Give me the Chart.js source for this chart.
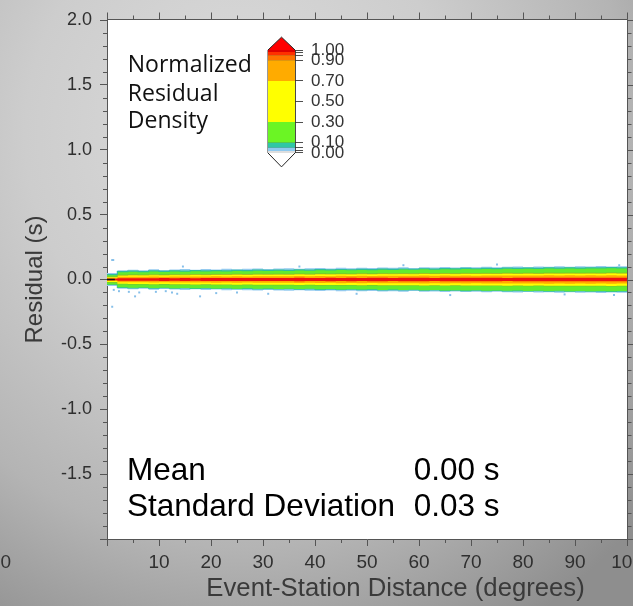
<!DOCTYPE html>
<html>
<head>
<meta charset="utf-8">
<title>Residual density</title>
<script src="https://cdn.jsdelivr.net/npm/chart.js@4.4.1/dist/chart.umd.min.js"></script>
<style>
  html, body { margin: 0; padding: 0; }
  body {
    width: 633px; height: 606px; overflow: hidden; position: relative;
    background: radial-gradient(ellipse 85% 95% at 38% 22%, #dcdcdc 0%, #cdcdcd 40%, #b4b4b4 72%, #8e8e8e 100%);
  }
  #main { position: absolute; left: 0; top: 0; }
  #scale { position: absolute; left: 250px; top: 30px; }
</style>
</head>
<body>
<canvas id="main" width="633" height="606"></canvas>
<canvas id="scale" width="110" height="145"></canvas>
<script>
// distance bins (degrees), 2 degree steps
const distance = [0,2,4,6,8,10,12,14,16,18,20,22,24,26,28,30,32,34,36,38,40,42,44,46,48,50,52,54,56,58,60,62,64,66,68,70,72,74,76,78,80,82,84,86,88,90,92,94,96,98,100];

// half widths (s) of each density contour around zero
const blueHalf = [0.050,0.071,0.076,0.072,0.079,0.074,0.078,0.081,0.076,0.080,
  0.077,0.083,0.079,0.082,0.085,0.080,0.084,0.087,0.083,0.086,
  0.088,0.085,0.090,0.087,0.091,0.088,0.092,0.090,0.094,0.089,
  0.095,0.093,0.096,0.092,0.097,0.095,0.099,0.094,0.098,0.100,
  0.096,0.101,0.098,0.102,0.099,0.103,0.100,0.104,0.101,0.103,0.103];
const greenHalf = [0.038,0.060,0.064,0.061,0.066,0.063,0.067,0.065,0.068,0.066,
  0.069,0.067,0.071,0.068,0.072,0.070,0.073,0.071,0.074,0.072,
  0.076,0.074,0.077,0.075,0.078,0.076,0.080,0.078,0.081,0.079,
  0.083,0.080,0.084,0.082,0.085,0.083,0.086,0.084,0.087,0.085,
  0.088,0.086,0.089,0.087,0.090,0.088,0.090,0.089,0.091,0.089,0.089];
const yellowHalf = [0.020,0.033,0.035,0.034,0.036,0.035,0.037,0.036,0.038,0.037,
  0.039,0.038,0.040,0.039,0.041,0.040,0.041,0.040,0.042,0.041,
  0.043,0.042,0.043,0.042,0.044,0.043,0.045,0.044,0.045,0.044,
  0.046,0.045,0.046,0.045,0.047,0.046,0.047,0.046,0.048,0.047,
  0.048,0.047,0.049,0.048,0.049,0.048,0.049,0.048,0.050,0.049,0.049];
const orangeHalf = [0.012,0.021,0.022,0.021,0.023,0.022,0.024,0.023,0.024,0.023,
  0.025,0.024,0.025,0.024,0.026,0.025,0.026,0.025,0.027,0.026,
  0.027,0.026,0.028,0.027,0.028,0.027,0.029,0.028,0.029,0.028,
  0.030,0.029,0.030,0.029,0.030,0.029,0.031,0.030,0.031,0.030,
  0.031,0.030,0.032,0.031,0.032,0.031,0.032,0.031,0.032,0.031,0.031];
const redHalf = [0.006,0.009,0.010,0.009,0.010,0.011,0.010,0.011,0.010,0.011,
  0.012,0.011,0.012,0.011,0.012,0.012,0.011,0.012,0.013,0.012,
  0.012,0.013,0.012,0.013,0.012,0.013,0.013,0.012,0.013,0.014,
  0.013,0.012,0.013,0.014,0.013,0.013,0.014,0.013,0.012,0.013,
  0.014,0.013,0.014,0.013,0.014,0.013,0.013,0.014,0.013,0.014,0.014];

// scattered low density cells outside the band
const outlierDist  = [1.0, 1.2, 1.0, 1.3, 2.3, 4.2, 6.2, 9.4, 11.3, 12.5, 13.5, 21, 25, 5.4, 17.9, 14.6, 37, 48, 66, 75, 88, 97.5, 98.5, 57, 31];
const outlierResid = [0.15, 0.15, -0.21, -0.08, -0.09, -0.095, -0.1, -0.095, -0.09, -0.1, -0.11, -0.105, -0.1, -0.13, -0.13, 0.1, 0.1, -0.11, -0.12, 0.115, -0.115, -0.12, 0.11, 0.11, -0.11];
const zeroStubDist = [0, 1.5];
const zeroStubResid = [0, 0];

// axes
const xMin = 0, xMax = 100, xMajorStep = 10, xMinorStep = 5;
const yMin = -2, yMax = 2, yMajorStep = 0.5, yMinorStep = 0.1;

// text in the plot
const legendLines = ["Normalized", "Residual", "Density"];
const legendDist = 4.0;
const legendResid = [1.599, 1.376, 1.167];
const statNames = ["Mean", "Standard Deviation"];
const statValues = ["0.00 s", "0.03 s"];
const statDist = 3.85, statValueDist = 59.0;
const statResid = [-1.545, -1.823];

// colour scale
const cbEdges  = [0, 0.02, 0.05, 0.10, 0.30, 0.70, 0.90, 0.95, 0.98, 1.00];
const cbColors = ['#dedede', '#8fc9ef', '#2fc7a4', '#6bf524', '#ffff00', '#ffab00', '#ff7200', '#ff3000', '#dd0000'];
const cbTicks  = [0, 0.02, 0.05, 0.10, 0.30, 0.50, 0.70, 0.90, 0.95, 0.98, 1.00];
const cbLabels = [0, 0.1, 0.3, 0.5, 0.7, 0.9, 1.0];

const levels = [
  { half: redHalf,    fill: '#ee1111', line: '#ee1111', width: 0 },
  { half: orangeHalf, fill: '#ffab00', line: '#ffab00', width: 0 },
  { half: yellowHalf, fill: '#ffff00', line: '#9c9c2a', width: 0.6 },
  { half: greenHalf,  fill: '#62eb2f', line: '#2fbf9c', width: 1.2 },
  { half: blueHalf,   fill: '#94caef', line: '#94caef', width: 0 }
];

const datasets = [];
datasets.push({
  data: outlierDist.map((d, i) => ({ x: d, y: outlierResid[i] })),
  showLine: false, pointStyle: 'rect', pointRadius: 1.4,
  pointBackgroundColor: '#86bfe9', pointBorderWidth: 0
});
datasets.push({
  data: zeroStubDist.map((d, i) => ({ x: d, y: zeroStubResid[i] })),
  borderColor: '#111', borderWidth: 1.5, pointRadius: 0, fill: false
});
levels.forEach(l => {
  datasets.push({
    data: distance.map((d, i) => ({ x: d, y: l.half[i] })),
    stepped: true, fill: '+1', backgroundColor: l.fill,
    borderColor: l.line, borderWidth: l.width, pointRadius: 0
  });
  datasets.push({
    data: distance.map((d, i) => ({ x: d, y: -l.half[i] })),
    stepped: true, fill: false,
    borderColor: l.line, borderWidth: l.width, pointRadius: 0
  });
});

const plotBg = {
  id: 'plotBg',
  beforeDraw(chart) {
    const { ctx, chartArea: a } = chart;
    ctx.save();
    ctx.fillStyle = '#ffffff';
    ctx.fillRect(a.left, a.top, a.right - a.left, a.bottom - a.top);
    ctx.restore();
  }
};

// minor ticks, plus ticks and frame on top and right sides
const frameTicks = {
  id: 'frameTicks',
  afterDraw(chart) {
    const { ctx, chartArea: a, scales: { x, y } } = chart;
    const isMajor = (v, s) => Math.abs(v / s - Math.round(v / s)) < 1e-6;
    ctx.save();
    ctx.strokeStyle = '#555';
    ctx.lineWidth = 1;
    ctx.beginPath();
    const top = Math.round(a.top) - 0.5, right = Math.round(a.right) + 0.5;
    ctx.moveTo(a.left, top); ctx.lineTo(right, top);
    ctx.moveTo(right, top); ctx.lineTo(right, a.bottom);
    for (let k = 0; k <= Math.round((yMax - yMin) / yMinorStep); k++) {
      const v = yMin + k * yMinorStep;
      const py = Math.round(y.getPixelForValue(v)) + 0.5;
      const major = isMajor(v, yMajorStep);
      if (!major) { ctx.moveTo(a.left - 4, py); ctx.lineTo(a.left, py); }
      ctx.moveTo(right, py); ctx.lineTo(right + (major ? 7 : 4), py);
    }
    for (let k = 0; k <= Math.round((xMax - xMin) / xMinorStep); k++) {
      const v = xMin + k * xMinorStep;
      const px = Math.round(x.getPixelForValue(v)) + 0.5;
      const major = isMajor(v, xMajorStep);
      if (!major) { ctx.moveTo(px, a.bottom); ctx.lineTo(px, a.bottom + 4); }
      ctx.moveTo(px, top); ctx.lineTo(px, top - (major ? 7 : 4));
    }
    ctx.stroke();
    ctx.restore();
  }
};

const notes = {
  id: 'notes',
  afterDraw(chart) {
    const { ctx, scales: { x, y } } = chart;
    ctx.save();
    ctx.fillStyle = '#111';
    ctx.textBaseline = 'alphabetic';
    ctx.font = '23px "Open Sans"';
    legendLines.forEach((t, i) => ctx.fillText(t, x.getPixelForValue(legendDist), y.getPixelForValue(legendResid[i])));
    ctx.fillStyle = '#000';
    ctx.font = '31.5px "Liberation Sans"';
    statNames.forEach((t, i) => ctx.fillText(t, x.getPixelForValue(statDist), y.getPixelForValue(statResid[i])));
    statValues.forEach((t, i) => ctx.fillText(t, x.getPixelForValue(statValueDist), y.getPixelForValue(statResid[i])));
    // cut-off tick label of the neighbouring panel
    ctx.fillStyle = '#333';
    ctx.font = '19px "Liberation Sans"';
    ctx.textAlign = 'right';
    ctx.fillText('100', 11, 568);
    ctx.restore();
  }
};

new Chart(document.getElementById('main'), {
  type: 'line',
  data: { datasets: datasets },
  options: {
    responsive: false,
    animation: false,
    layout: { padding: { top: 20, right: 6, left: 0, bottom: 0 } },
    plugins: { legend: { display: false }, tooltip: { enabled: false } },
    scales: {
      x: {
        type: 'linear', min: xMin, max: xMax,
        ticks: {
          stepSize: xMajorStep, autoSkip: false, maxRotation: 0, padding: 5,
          color: '#2f2f2f', font: { family: 'Liberation Sans', size: 19 },
          callback: v => v === 0 ? '' : v
        },
        grid: { drawOnChartArea: false, drawTicks: true, tickLength: 7, color: '#555' },
        border: { display: true, color: '#555', width: 1 },
        title: {
          display: true, text: '        Event-Station Distance (degrees)', color: '#3a3a3a',
          font: { family: 'Liberation Sans', size: 25.7 }, padding: { top: 0, bottom: 2 }
        },
        afterFit: s => { s.height = 67; s.paddingLeft = 0; s.paddingRight = 0; }
      },
      y: {
        min: yMin, max: yMax,
        ticks: {
          stepSize: yMajorStep, autoSkip: false, padding: 8,
          color: '#2f2f2f', font: { family: 'Liberation Sans', size: 18 },
          callback: v => v === yMin ? '' : v.toFixed(1)
        },
        grid: { drawOnChartArea: false, drawTicks: true, tickLength: 7, color: '#555' },
        border: { display: true, color: '#555', width: 1 },
        title: {
          display: true, text: 'Residual (s)', color: '#3a3a3a',
          font: { family: 'Liberation Sans', size: 24 }, padding: { top: 21, bottom: 0 }
        },
        afterFit: s => { s.width = 107; s.paddingTop = 0; s.paddingBottom = 0; }
      }
    }
  },
  plugins: [plotBg, frameTicks, notes]
});

// colour bar legend
const cbSets = [];
cbColors.forEach((c, i) => {
  cbSets.push({
    data: [{ x: 0, y: cbEdges[i + 1] }, { x: 1, y: cbEdges[i + 1] }],
    fill: { value: cbEdges[i] }, backgroundColor: c, borderWidth: 0, pointRadius: 0, clip: 4
  });
});
cbSets.push({
  data: [{ x: 0, y: 1 }, { x: 0.5, y: 1.125 }, { x: 1, y: 1 }],
  fill: { value: 1 }, backgroundColor: '#ff0000', borderColor: '#222', borderWidth: 1, pointRadius: 0, clip: 4
});
cbSets.push({
  data: [{ x: 0, y: 0 }, { x: 0.5, y: -0.135 }, { x: 1, y: 0 }],
  fill: { value: 0 }, backgroundColor: '#ffffff', borderColor: '#222', borderWidth: 1, pointRadius: 0, clip: 4
});
cbSets.push({
  data: [{ x: 0, y: 0 }, { x: 0, y: 1 }, { x: 1, y: 1 }, { x: 1, y: 0 }, { x: 0, y: 0 }],
  fill: false, borderColor: '#333', borderWidth: 1, pointRadius: 0, clip: 4
});

new Chart(document.getElementById('scale'), {
  type: 'line',
  data: { datasets: cbSets },
  options: {
    responsive: false,
    animation: false,
    layout: { padding: { left: 18, top: 5.6, bottom: 7.6, right: 0 } },
    plugins: { legend: { display: false }, tooltip: { enabled: false } },
    scales: {
      x: { type: 'linear', min: 0, max: 1, display: false },
      y: {
        position: 'right', min: -0.14, max: 1.14, z: 1,
        afterBuildTicks: s => { s.ticks = cbTicks.map(v => ({ value: v })); },
        ticks: {
          autoSkip: false, padding: 8, color: '#333',
          font: { family: 'Liberation Sans', size: 17 },
          callback: v => cbLabels.includes(v) ? v.toFixed(2) : ''
        },
        grid: { drawOnChartArea: true, drawTicks: true, tickLength: 8, color: '#222', lineWidth: 0.8 },
        border: { display: false },
        afterFit: s => { s.width = 65; s.paddingTop = 0; s.paddingBottom = 0; }
      }
    }
  }
});
</script>
</body>
</html>
